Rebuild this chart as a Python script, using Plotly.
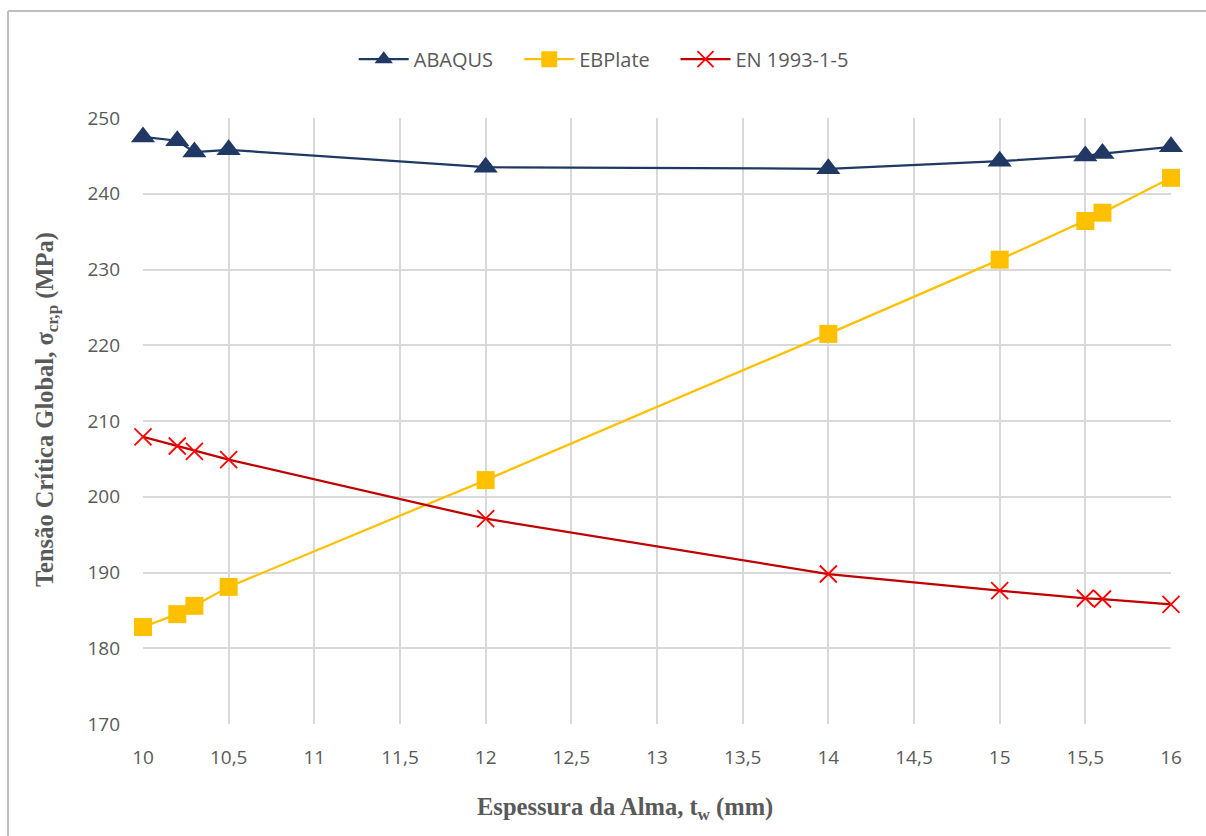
import plotly.graph_objects as go

# Web thickness t_w (mm)
espessura = [10, 10.2, 10.3, 10.5, 12, 14, 15, 15.5, 15.6, 16]

# Global critical stress sigma_cr,p (MPa) per method
abaqus = [247.5, 247.0, 245.5, 245.8, 243.5, 243.3, 244.3, 245.0, 245.3, 246.2]
ebplate = [182.8, 184.5, 185.6, 188.1, 202.2, 221.5, 231.3, 236.4, 237.5, 242.1]
en1993 = [207.9, 206.7, 206.0, 204.9, 197.1, 189.8, 187.6, 186.6, 186.5, 185.8]

x_ticks = [10, 10.5, 11, 11.5, 12, 12.5, 13, 13.5, 14, 14.5, 15, 15.5, 16]
y_ticks = [170, 180, 190, 200, 210, 220, 230, 240, 250]

x_title = "<b>Espessura da Alma, t<sub>w</sub> (mm)</b>"
y_title = "<b>Tensão Crítica Global, σ<sub>cr,p</sub> (MPa)</b>"

fig = go.Figure()

fig.add_trace(go.Scatter(
    x=espessura, y=abaqus, name="ABAQUS", mode="lines+markers",
    line=dict(color="#1F3864", width=2.25), cliponaxis=False,
    marker=dict(symbol="triangle-up", size=21, color="#1F3864"),
    legend="legend",
))
fig.add_trace(go.Scatter(
    x=espessura, y=ebplate, name="EBPlate", mode="lines+markers",
    line=dict(color="#FFC000", width=2.25), cliponaxis=False,
    marker=dict(symbol="square", size=18, color="#FFC000"),
    legend="legend2",
))
fig.add_trace(go.Scatter(
    x=espessura, y=en1993, name="EN 1993-1-5", mode="lines+markers",
    line=dict(color="#C00000", width=2.25), cliponaxis=False,
    marker=dict(symbol="x-thin", size=17, color="#FF0000",
                line=dict(color="#FF0000", width=1.8)),
    legend="legend3",
))

title_font = dict(family="Liberation Serif, Times New Roman, serif", size=24.5, color="#595959")


def legend_box(x):
    # one legend entry placed in the shared row above the plot
    return dict(
        orientation="h", x=x, xanchor="left", y=1.097, yanchor="middle",
        font=dict(size=20, color="#595959"), itemwidth=50,
        bgcolor="rgba(0,0,0,0)",
    )


fig.update_layout(
    width=1206, height=836,
    margin=dict(l=143, r=35, t=118, b=112),
    paper_bgcolor="white", plot_bgcolor="white",
    separators=",.",
    font=dict(family="Open Sans, Liberation Sans, sans-serif", color="#595959", size=19),
    showlegend=True,
    legend=legend_box(0.205),
    legend2=legend_box(0.366),
    legend3=legend_box(0.518),
    xaxis=dict(
        range=[10, 16], tickvals=x_ticks, showgrid=True,
        gridcolor="#D9D9D9", gridwidth=1.5, zeroline=False,
        showline=False, ticks="", ticklabelstandoff=20,
        tickfont=dict(size=19, color="#595959"),
    ),
    yaxis=dict(
        range=[170, 250], tickvals=y_ticks, showgrid=True,
        gridcolor="#D9D9D9", gridwidth=1.5, zeroline=False,
        showline=False, ticks="", ticklabelstandoff=22,
        tickfont=dict(size=19, color="#595959"),
    ),
    annotations=[
        dict(text=x_title, xref="paper", yref="paper",
             x=(625 - 143) / 1028, y=-(808 - 724) / 606,
             xanchor="center", yanchor="middle", showarrow=False,
             font=title_font),
        dict(text=y_title, xref="paper", yref="paper",
             x=-(143 - 47) / 1028, y=(724 - 410) / 606,
             xanchor="center", yanchor="middle", showarrow=False,
             textangle=-90, font=title_font),
    ],
    shapes=[
        dict(type="line", xref="paper", yref="paper",
             x0=-0.1313, x1=1.05, y0=1.1766, y1=1.1766,
             line=dict(color="#BFBFBF", width=2)),
        dict(type="line", xref="paper", yref="paper",
             x0=-0.1313, x1=-0.1313, y0=-0.2, y1=1.1766,
             line=dict(color="#BFBFBF", width=2)),
    ],
)

fig.write_html("out.html")
